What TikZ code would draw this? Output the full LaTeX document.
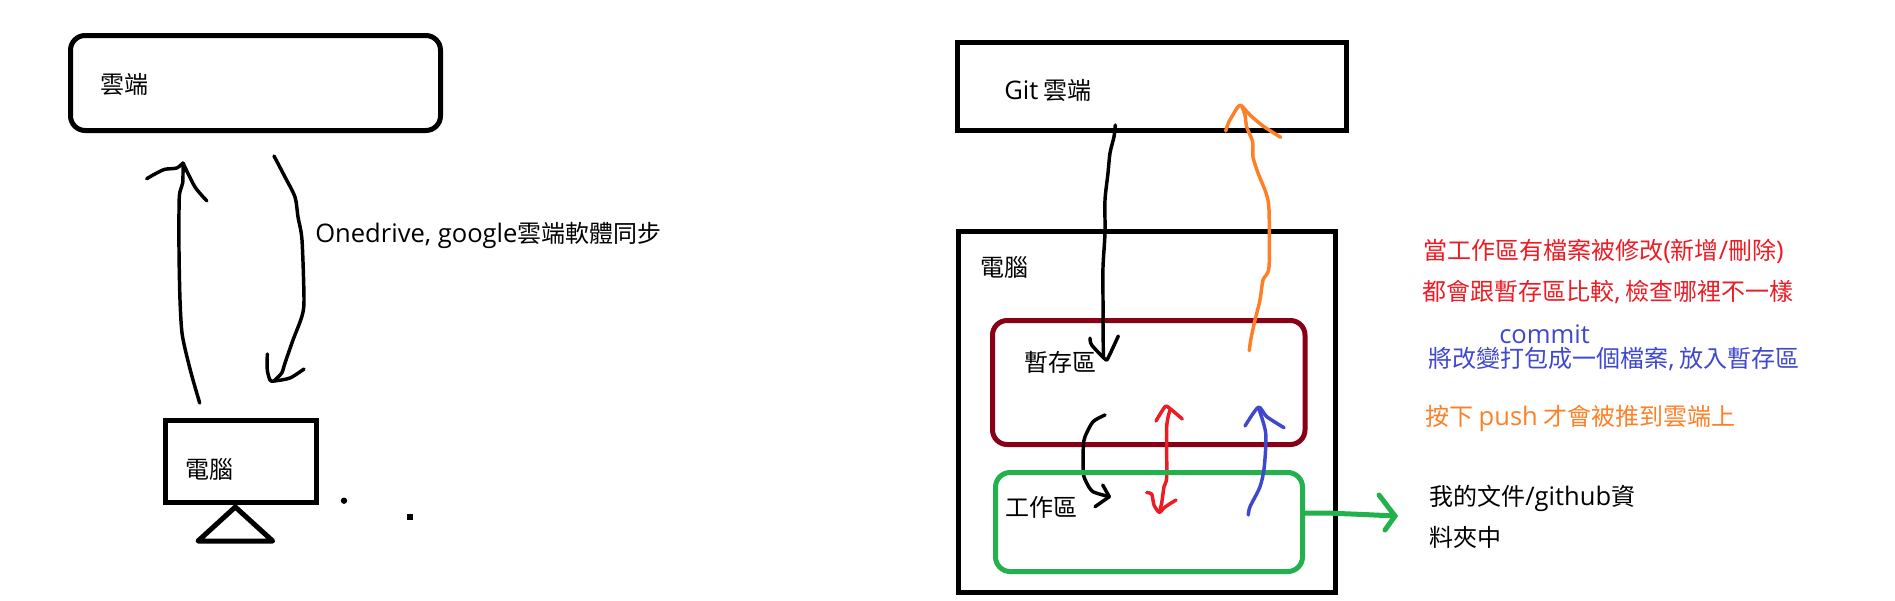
\documentclass[tikz,border=0pt]{standalone}
\usepackage{fontspec}
\setmainfont{Noto Sans CJK TC}
\newfontfamily\lat[Scale=1.065]{Open Sans}
\definecolor{darkred}{HTML}{880015}
\definecolor{pgreen}{HTML}{22B14C}
\definecolor{pred}{HTML}{ED1C24}
\definecolor{pblue}{HTML}{3F48CC}
\definecolor{porange}{HTML}{FF7F27}
\tikzset{
  box/.style={line width=3.75pt,line join=miter},
  rbox/.style={line width=3.75pt,rounded corners=11pt},
  pen/.style={line width=2.6pt,line cap=round,line join=round},
  lbl/.style={anchor=base west,inner sep=0pt,font=\fontsize{18pt}{18pt}\selectfont},
  sm/.style={smooth,tension=0.45}
}
\begin{document}
\begin{tikzpicture}[x=0.75pt,y=-0.75pt]
\useasboundingbox (0,0) rectangle (1895,600);
% --- left part
\draw[rbox] (70.5,35.5) rectangle (440.5,130.5);
\draw[box] (165.5,420.5) rectangle (316.5,502);
\draw[line width=3.75pt,line join=round] (235.3,507) -- (198,541) -- (272.7,541) -- cycle;
\fill (344,500.7) circle (2.4pt);
\fill (407,514) rectangle (413,520);
\node[lbl] (cloud) at (100.5,93) {雲端};
\node[lbl] (pc) at (185,478) {電腦};
\node[lbl] (sync) at (315,242) {{\lat Onedrive, google}雲端軟體同步};
% left up arrow
\coordinate (upS) at (199.7,403);
\coordinate (upT) at (183,163);
\draw[pen] plot[sm] coordinates {(upS) (193,380) (187,357) (182,333) (180,300) (179,250) (179.3,197) (182.7,183) (upT)};
\draw[pen] plot[sm] coordinates {(146.7,178.7) (156.7,173) (165,169.3) (176.7,168) (upT)};
\draw[pen] plot[sm] coordinates {(upT) (195,187) (207,201)};
% left down arrow
\coordinate (dnS) at (274,156);
\coordinate (dnT) at (274,381);
\draw[pen] plot[sm] coordinates {(dnS) (285,177) (295,197) (298,217) (302,240) (304,300) (301.7,317) (293,340) (285,363) (281.7,373) (dnT)};
\draw[pen] plot[sm] coordinates {(267.3,354) (267.3,370) (270,380) (dnT) (290,378) (304,369)};
% --- right part
\draw[box] (957.5,42.5) rectangle (1346.5,130.5);
\draw[box] (958.5,231.5) rectangle (1335.5,592.5);
\draw[rbox,darkred] (992.5,320.5) rectangle (1305,444.5);
\node[lbl] (git) at (1004,99.5) {{\lat Git} 雲端};
\node[lbl] (pc2) at (980,276) {電腦};
\node[lbl] (stage) at (1024.5,371) {暫存區};
\node[lbl] (work) at (1005,516) {工作區};
% black arrow git -> stage
\coordinate (pullS) at (1115.3,125);
\coordinate (pullT) at (1105,359);
\draw[pen] plot[sm] coordinates {(pullS) (1114,136.7) (1110,153) (1108,173) (1105,200) (1105,233) (1103,267) (1103,300) (1103.3,356.7)};
\draw[pen] plot[sm] coordinates {(1090,338) (1091.7,345) (pullT) (1108,358) (1118.3,336)};
% curved black
\coordinate (cS) at (1105,415);
\coordinate (cT) at (1109.3,496.7);
\draw[pen] plot[sm] coordinates {(cS) (1093,421.7) (1085,436.7) (1083.3,446.7) (1083.3,473) (1086.7,483) (1093,491.7) (cT)};
\draw[pen] (1102.7,485) -- (cT) -- (1095,506.7);
% red double arrow
\begin{scope}[pred]
\coordinate (rT) at (1165,406.7);
\coordinate (rB) at (1159.3,512.3);
\draw[pen] plot[sm] coordinates {(1170,410) (1166.7,426.7) (1166.7,476.7) (1164,486.7) (1161.7,503) (rB)};
\draw[pen] plot[sm] coordinates {(1156,421) (rT) (1169.3,408) (1182.3,419)};
\draw[pen] plot[sm] coordinates {(1146.7,492.7) (1151.7,494) (1154,505) (rB) (1165,507) (1176,500)};
\end{scope}
% green box on top of the black and red strokes
\draw[rbox,pgreen] (995.5,472.5) rectangle (1302.5,571.5);
% blue arrow
\coordinate (bS) at (1248.3,515);
\coordinate (bT) at (1258.3,407.3);
\draw[pen,pblue] plot[sm] coordinates {(bS) (1250,506.7) (1260,486.7) (1264.3,466.7) (1265.7,433) (bT)};
\draw[pen,pblue] plot[sm] coordinates {(1245,426) (bT) (1266.7,416.7) (1284,427.7)};
% orange arrow
\coordinate (oS) at (1249.3,350.7);
\coordinate (oT) at (1241.7,106);
\draw[pen,porange] plot[sm] coordinates {(oS) (1250.7,340) (1255,320) (1260,300) (1263,280) (1269,267) (1269,210) (1266,193) (1258,173) (1253,157) (1252.7,142) (1246.7,127) (1245,115) (oT)};
\draw[pen,porange] plot[sm] coordinates {(1225.7,131) (1229,121.7) (1238,106.7) (oT) (1250,115) (1263,126) (1280.7,137.3)};
% green arrow
\coordinate (gS) at (1303,513);
\coordinate (gT) at (1395,516);
\draw[line width=3.75pt,pgreen,line join=miter] (gS) -- (1326.7,513) -- (1368,514.7) -- (gT);
\draw[line width=3.75pt,pgreen,line cap=round,line join=miter] (1379,495) -- (gT) -- (1385,530);
% texts
\node[lbl,text=pred] (t1) at (1423,259.5) {當工作區有檔案被修改{\lat(}新增{\lat/}刪除{\lat)}};
\node[lbl,text=pred] (t2) at (1422,300) {都會跟暫存區比較{\lat,} 檢查哪裡不一樣};
\node[lbl,text=pblue] (t3) at (1499,343) {\lat commit};
\node[lbl,text=pblue] (t4) at (1428,367) {將改變打包成一個檔案{\lat,} 放入暫存區};
\node[lbl,text=porange] (t5) at (1425,425) {按下 {\lat push} 才會被推到雲端上};
\node[lbl] (t6) at (1429,505) {我的文件{\lat/github}資};
\node[lbl] (t7) at (1429,546) {料夾中};
\end{tikzpicture}
\end{document}
